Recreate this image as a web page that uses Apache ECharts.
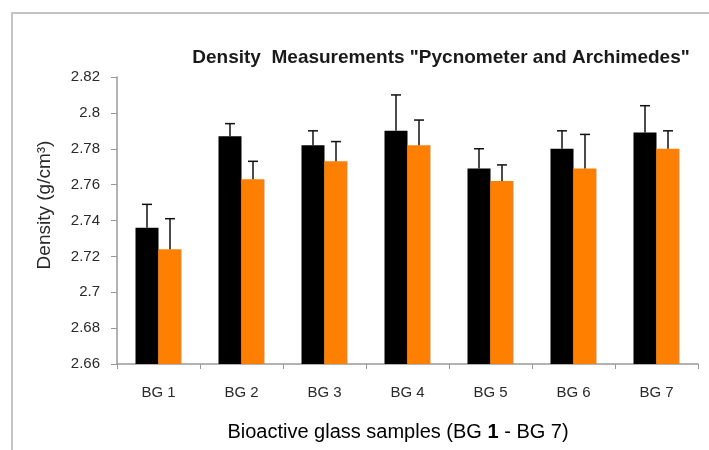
<!DOCTYPE html>
<html>
<head>
<meta charset="utf-8">
<script src="https://cdn.jsdelivr.net/npm/echarts@6/dist/echarts.min.js"></script>
<style>
  html, body { margin: 0; padding: 0; background: #fff; }
  #chart { width: 709px; height: 450px; }
</style>
</head>
<body>
<div id="chart"></div>
<script>
// Sample names on the category axis
const categories = ['BG 1', 'BG 2', 'BG 3', 'BG 4', 'BG 5', 'BG 6', 'BG 7'];
// Density (g/cm³) by pycnometer (black) and Archimedes method (orange)
const pycnometer = [2.736, 2.787, 2.782, 2.790, 2.769, 2.780, 2.789];
const archimedes = [2.724, 2.763, 2.773, 2.782, 2.762, 2.769, 2.780];
// Standard deviations drawn as upward error bars
const pycnometerErr = [0.013, 0.007, 0.008, 0.020, 0.011, 0.010, 0.015];
const archimedesErr = [0.017, 0.010, 0.011, 0.014, 0.009, 0.019, 0.010];
// Value axis range
const yMin = 2.66, yMax = 2.82, yStep = 0.02;

const BAR_W = 23;
const FONT = '"Liberation Sans", Arial, sans-serif';

// Error whisker above each bar; offset shifts it onto the left or right bar of the pair
function errorBar(values, errs, offset) {
  return {
    type: 'custom',
    silent: true,
    z: 5,
    data: values.map((v, i) => [i, v, v + errs[i]]),
    renderItem: function (params, api) {
      const base = api.coord([api.value(0), api.value(1)]);
      const top = api.coord([api.value(0), api.value(2)]);
      const x = base[0] + offset;
      const half = 5;
      const style = { stroke: '#111', lineWidth: 1.5 };
      return {
        type: 'group',
        children: [
          { type: 'line', shape: { x1: x, y1: base[1], x2: x, y2: top[1] }, style },
          { type: 'line', shape: { x1: x - half, y1: top[1], x2: x + half, y2: top[1] }, style }
        ]
      };
    }
  };
}

const chart = echarts.init(document.getElementById('chart'));
chart.setOption({
  backgroundColor: '#fff',
  animation: false,
  grid: { left: 117, right: 11, top: 77, bottom: 86, containLabel: false },
  xAxis: {
    type: 'category',
    data: categories,
    axisLine: { lineStyle: { color: '#999', width: 1.5 } },
    axisTick: { show: true, length: 5, lineStyle: { color: '#999' } },
    axisLabel: { margin: 21, fontFamily: FONT, fontSize: 15, color: '#2a2a2a' }
  },
  yAxis: {
    type: 'value',
    min: yMin,
    max: yMax,
    interval: yStep,
    splitLine: { show: false },
    axisLine: { show: true, lineStyle: { color: '#999', width: 1.5 } },
    axisTick: { show: true, inside: false, length: 6, lineStyle: { color: '#999' } },
    axisLabel: { margin: 17, fontFamily: FONT, fontSize: 15, color: '#2a2a2a' }
  },
  graphic: [
    {
      type: 'polyline',
      shape: { points: [[12, 450], [12, 13], [709, 13]] },
      style: { stroke: '#c4c4c4', lineWidth: 2, fill: null }
    },
    {
      type: 'text',
      x: 441,
      y: 58,
      style: {
        text: 'Density  Measurements "Pycnometer and Archimedes"',
        font: 'bold 19px ' + FONT,
        fill: '#1a1a1a',
        align: 'center',
        verticalAlign: 'middle'
      }
    },
    {
      type: 'text',
      x: 45,
      y: 205,
      rotation: Math.PI / 2,
      style: {
        text: 'Density (g/cm³)',
        font: '19px ' + FONT,
        fill: '#2a2a2a',
        align: 'center',
        verticalAlign: 'middle'
      }
    },
    {
      type: 'text',
      x: 398,
      y: 432,
      style: {
        text: '{r|Bioactive glass samples (BG }{b|1}{r| - BG 7)}',
        align: 'center',
        verticalAlign: 'middle',
        rich: {
          r: { fontFamily: FONT, fontSize: 20, color: '#1a1a1a' },
          b: { fontFamily: FONT, fontSize: 20, fontWeight: 'bold', color: '#1a1a1a' }
        }
      }
    }
  ],
  series: [
    {
      name: 'Pycnometer',
      type: 'bar',
      data: pycnometer,
      barWidth: BAR_W,
      barGap: '0%',
      itemStyle: { color: '#000' }
    },
    {
      name: 'Archimedes',
      type: 'bar',
      data: archimedes,
      barWidth: BAR_W,
      barGap: '0%',
      itemStyle: { color: '#ff8000' }
    },
    errorBar(pycnometer, pycnometerErr, -BAR_W / 2),
    errorBar(archimedes, archimedesErr, BAR_W / 2)
  ]
});
</script>
</body>
</html>
